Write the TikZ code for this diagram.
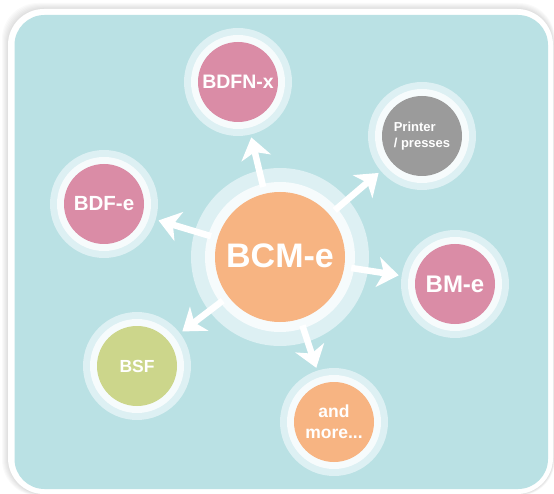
\documentclass[tikz,border=0pt]{standalone}
\usepackage{fontspec}
\setmainfont{Liberation Sans}
\usetikzlibrary{arrows.meta}
\definecolor{bg}{HTML}{BAE1E4}
\definecolor{halo}{HTML}{DDF0F3}
\definecolor{ring}{HTML}{F6FBFC}
\definecolor{pinkc}{HTML}{DA8CA6}
\definecolor{grayc}{HTML}{9B9B9B}
\definecolor{orangec}{HTML}{F7B482}
\definecolor{greenc}{HTML}{CCD68B}
\begin{document}
\begin{tikzpicture}[x=1pt,y=-1pt,
  disk/.style={circle, inner sep=0pt, outer sep=0pt, minimum size=80pt, text=white, align=center},
  bigdisk/.style={disk, minimum size=130pt},
  arr/.style={draw=white, line width=6.5pt, -{Stealth[length=21pt,width=30pt,inset=6pt]}, shorten <=72pt, shorten >=57pt}
]
\useasboundingbox (0,0) rectangle (554,494);
% shadow
\foreach \i in {1,...,6}{
  \fill[black, opacity=0.018, rounded corners=36pt] ({8-\i},{9-\i}) rectangle ({553+0.3*\i},{494+0.3*\i});
}
\fill[white, rounded corners=36pt] (8,9) rectangle (553,494);
\fill[bg, rounded corners=30pt] (14.5,15) rectangle (548,489);

% halos
\foreach \x/\y in {238/82, 422/136, 104/204, 455/284, 137/366, 334/422}{
  \fill[halo] (\x,\y) circle (54);
  \fill[ring] (\x,\y) circle (47);
}
\fill[halo] (280,257) circle (89);
\fill[ring] (280,257) circle (75);

\node[bigdisk, fill=orangec, font=\bfseries\fontsize{34}{40}\selectfont] (c) at (280,257) {\raisebox{3pt}{BCM-e}};
\node[disk, fill=pinkc, font=\bfseries\fontsize{19.5}{23}\selectfont] (bdfn) at (238,82) {BDFN-x};
\node[disk, fill=grayc, align=left, font=\bfseries\fontsize{13}{16.5}\selectfont] (prn) at (422,136) {Printer\\/ presses};
\node[disk, fill=pinkc, font=\bfseries\fontsize{20.5}{24}\selectfont] (bdf) at (104,204) {BDF-e};
\node[disk, fill=pinkc, font=\bfseries\fontsize{24}{28}\selectfont] (bme) at (455,284) {BM-e};
\node[disk, fill=greenc, font=\bfseries\fontsize{17.5}{21}\selectfont] (bsf) at (137,366) {BSF};
\node[disk, fill=orangec, font=\bfseries\fontsize{17.5}{21}\selectfont] (more) at (334,422) {and\\more...};

\foreach \t in {bdfn, prn, bdf, bme, bsf, more}{
  \draw[arr] (c.center) -- (\t.center);
}
\end{tikzpicture}
\end{document}
